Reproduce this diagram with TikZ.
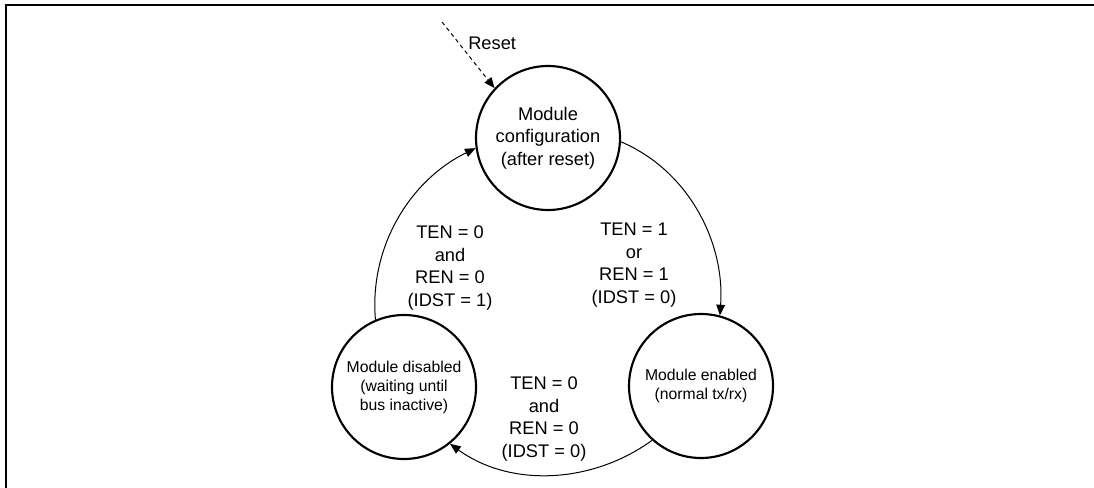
\documentclass[tikz,border=0pt]{standalone}
\usepackage{fontspec}
\setmainfont{Liberation Sans}
\usetikzlibrary{arrows.meta}
\begin{document}
\begin{tikzpicture}[x=0.75pt,y=0.75pt,
  state/.style={circle,draw,line width=1.6pt,minimum size=108pt,inner sep=0pt,align=center},
  bigtext/.style={font=\fontsize{13.7}{17}\selectfont},
  smalltext/.style={font=\fontsize{11.8}{14.25}\selectfont},
  trans/.style={line width=0.75pt,-{Triangle[length=8pt,width=6.5pt]}},
  lbl/.style={align=center,font=\fontsize{13.7}{17}\selectfont,inner sep=0pt},
  frameline/.style={line width=1.5pt}]
\useasboundingbox (0,0) rectangle (1094,-488);
\draw[frameline] (6,-488) -- (6,-5) -- (1094,-5);

\node[state,bigtext] (cfg) at (548,-138) {Module\\configuration\\(after reset)};
\node[state,smalltext] (dis) at (404,-387) {Module disabled\\(waiting until\\bus inactive)};
\node[state,smalltext] (en) at (701,-386) {Module enabled\\(normal tx/rx)};

\coordinate (rs) at (442,-22);
\draw[trans,dash pattern=on 3pt off 2.5pt] (rs) -- (cfg.137);
\node[lbl,anchor=west] (rstl) at (468,-43) {Reset};

\draw[trans] (cfg.-3) to[out=-23,in=86,looseness=0.94] (en.75);
\draw[trans] (en.228) to[out=216,in=-36,looseness=0.94] (dis.-51);
\draw[trans] (dis.113) to[out=95,in=206,looseness=0.94] (cfg.188);

\node[lbl] (l1) at (450,-268) {TEN = 0\\and\\REN = 0\\(IDST = 1)};
\node[lbl] (l2) at (634,-265) {TEN = 1\\or\\REN = 1\\(IDST = 0)};
\node[lbl] (l3) at (544,-419) {TEN = 0\\and\\REN = 0\\(IDST = 0)};
\end{tikzpicture}
\end{document}
